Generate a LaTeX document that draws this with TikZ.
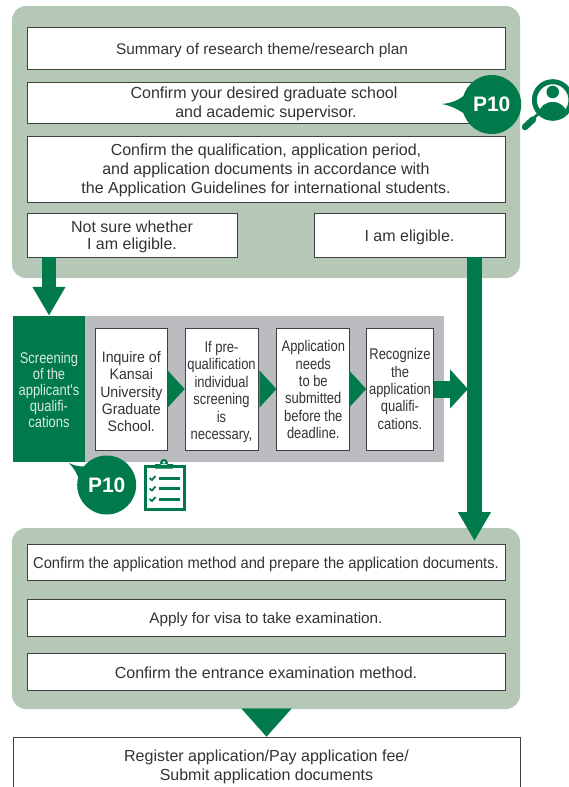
\documentclass[tikz,border=0pt]{standalone}
\usepackage{fontspec}
\setmainfont{Liberation Sans}
\newfontfamily\narrowfont[FakeStretch=0.835]{Liberation Sans}
\newfontfamily\midfont[FakeStretch=0.93]{Liberation Sans}
\usetikzlibrary{arrows.meta, positioning}
\definecolor{kgreen}{HTML}{007A4B}
\definecolor{kpanel}{HTML}{B5C8B8}
\definecolor{kgray}{HTML}{BBBCC0}
\definecolor{ktext}{HTML}{333333}
\definecolor{kpale}{HTML}{D8EADD}
\newcommand{\firstdrop}[1]{\rule{0pt}{#1pt}}

\begin{document}
\begin{tikzpicture}[
            x=1pt, y=-1pt,
            panel/.style={fill=kpanel, rounded corners=14pt, minimum width=508pt, inner sep=0pt},
            wbox/.style={draw=black!75, fill=white, line width=0.8pt, inner sep=0pt, align=center, text=ktext,
                font=\fontsize{16}{19}\selectfont},
            wide/.style={wbox, minimum width=478pt},
            stepbox/.style={wbox, minimum height=122pt, font=\narrowfont\fontsize{15.5}{17.4}\selectfont},
            bigarrow/.style={draw=kgreen, line width=14.5pt, -{Triangle[length=29pt, width=31pt, fill=kgreen]}},
            tri/.style={draw=kgreen, line width=0.2pt, -{Triangle[length=17pt, width=37pt, fill=kgreen]}},
            bubble/.style={circle, fill=kgreen, text=white, minimum size=59pt, inner sep=0pt,
                font=\bfseries\fontsize{21}{21}\selectfont},
        ]
        \useasboundingbox (0,0) rectangle (569,787);
        % panels
        \node (toppanel) at (266,142) [panel, minimum height=272pt] {};
        \node (botpanel) at (266,618.5) [panel, minimum height=181pt] {};
        \node (graypanel) at (264.5,389) [fill=kgray, minimum width=359pt, minimum height=146pt, inner sep=0pt] {};
        \node (screen) at (49,389) [fill=kgreen, text=kpale, minimum width=72pt, minimum height=146pt, inner sep=0pt,
            align=center, font=\narrowfont\fontsize{15.5}{16}\selectfont]
            {\firstdrop{13.3}Screening\\of the\\applicant's\\qualifi-\\cations};
        % top boxes
        \node (summary) at (266,48) [wide, minimum height=42pt, font=\fontsize{15.4}{19}\selectfont] {\firstdrop{15.5}Summary of research theme/research plan\hspace*{8pt}};
        \node (supervisor) at (266,102.5) [wide, minimum height=41pt] {\firstdrop{14.6}Confirm your desired graduate school\hspace*{4pt}\\and academic supervisor.};
        \node (guidelines) at (266,169) [wide, minimum height=66pt] {\firstdrop{13.6}Confirm the qualification, application period,\\and application documents in accordance with\\the Application Guidelines for international students.};
        \node (notsure) at (132,235) [wbox, minimum width=210pt, minimum height=44pt, font=\fontsize{16}{17}\selectfont] {\firstdrop{15.6}Not sure whether\\I am eligible.};
        \node (eligible) at (409.5,235) [wbox, minimum width=191pt, minimum height=44pt] {\firstdrop{15.5}I am eligible.};
        % screening steps
        \node (inquire) at (131.3,389) [stepbox, minimum width=72pt, font=\midfont\fontsize{15.2}{17.4}\selectfont] {\firstdrop{16.4}Inquire of\\Kansai\\University\\Graduate\\School.};
        \node (prequal) at (221.5,389) [stepbox, minimum width=73pt] {\firstdrop{17.3}If pre-\\qualification\\individual\\screening\\is\\necessary,};
        \node (deadline) at (313.3,389) [stepbox, minimum width=73pt] {\firstdrop{12.5}Application\\needs\\to be\\submitted\\before the\\deadline.};
        \node (recognize) at (400,389) [stepbox, minimum width=67pt] {Recognize\\the\\application\\qualifi-\\cations.};
        \draw[tri] (inquire.east) -- (prequal.west);
        \draw[tri] (prequal.east) -- (deadline.west);
        \draw[tri] (deadline.east) -- (recognize.west);
        % bottom boxes
        \node (method) at (266,562) [wide, minimum height=36pt, font=\midfont\fontsize{15.8}{19}\selectfont] {\firstdrop{15.5}Confirm the application method and prepare the application documents.};
        \node (visa) at (266,617.5) [wide, minimum height=37pt, font=\fontsize{15.3}{19}\selectfont] {\firstdrop{15.5}Apply for visa to take examination.};
        \node (exam) at (266,671.5) [wide, minimum height=37pt] {\firstdrop{14.5}Confirm the entrance examination method.};
        \node (register) at (266.5,764.5) [wbox, minimum width=507pt, minimum height=55pt] {\firstdrop{16.6}Register application/Pay application fee/\\Submit application documents};
        % arrows
        \coordinate (rightin) at (474.5,541);
        \coordinate (barside) at (468,385);
        \draw[bigarrow] (notsure.south -| screen.north) -- (screen.north);
        \draw[bigarrow] (eligible.south -| rightin) -- (rightin);
        \draw[draw=kgreen, line width=17pt, -{Triangle[length=18pt, width=38pt, fill=kgreen]}] (recognize.east) -- (recognize.east -| barside);
        \draw[draw=kgreen, line width=0.2pt, -{Triangle[length=28pt, width=50pt, fill=kgreen]}] (botpanel.south -| register.north) -- (register.north);
        % page references
        \fill[kgreen] (442,104) .. controls (452,103) and (460,100) .. (468,92) -- (470,118) .. controls (460,110) and (452,106) .. cycle;
        \node (ptop) at (491.7,104.5) [bubble] {P10};
        \fill[kgreen] (69,463) .. controls (75,466) and (80,467) .. (90,466) -- (80,482) .. controls (78,475) and (74,468) .. cycle;
        \node (pscreen) at (106.7,485) [bubble] {P10};
        % magnifier icon
        \draw[kgreen, line width=5pt] (552.7,100) circle (18.3pt);
        \fill[kgreen] (552.7,92) circle (6.3pt);
        \begin{scope}
            \clip (552.7,100) circle (17pt);
            \fill[kgreen] (552.7,113) ellipse (13.5pt and 11pt);
        \end{scope}
        \draw[kgreen, line width=2.5pt] (533,119) -- (538,114);
        \draw[kgreen, line width=6.5pt, line cap=round] (525,127) -- (533,119.5);
        % clipboard icon
        \draw[kgreen, line width=3pt, fill=white] (145,466) rectangle (184.5,509);
        \fill[kgreen] (155,468.5) rectangle (173,464) (164,463) circle (4pt);
        \fill[white] (164,462.5) circle (1.3pt);
        \foreach \y in {478,488.5,499} {
            \draw[kgreen, line width=1.8pt] (149.5,\y) -- (152,\y+2) -- (155.5,\y-2);
            \draw[kgreen, line width=3pt] (158.5,\y) -- (179.5,\y);
        }
\end{tikzpicture}
\end{document}
